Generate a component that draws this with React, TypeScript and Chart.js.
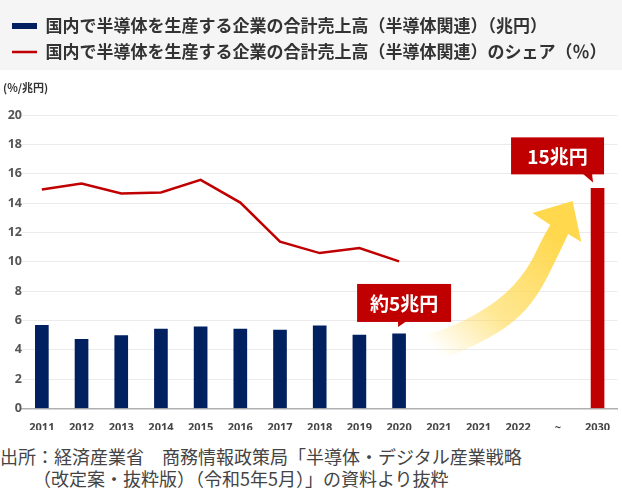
import React, { useEffect, useRef } from 'react';
import { Chart, registerables } from 'chart.js';

Chart.register(...registerables);

// ---------- data ----------
const categories = ['2011', '2012', '2013', '2014', '2015', '2016', '2017', '2018', '2019', '2020', '2021', '2021', '2022', '~', '2030'];
const salesTrillionYen = [5.67, 4.71, 4.97, 5.42, 5.56, 5.42, 5.35, 5.63, 5.01, 5.08, null, null, null, null, 15];
const sharePercent = [14.92, 15.33, 14.65, 14.72, 15.58, 14.03, 11.37, 10.59, 10.94, 10.03, null, null, null, null, null];
const yTickValues = [0, 2, 4, 6, 8, 10, 12, 14, 16, 18, 20];
const seriesLabels = [
  '国内で半導体を生産する企業の合計売上高（半導体関連）（兆円）',
  '国内で半導体を生産する企業の合計売上高（半導体関連）のシェア（％）',
];
const unitLabel = '(%/兆円)';
const calloutCurrentText = '約5兆円';
const calloutTargetText = '15兆円';
const sourceLines = [
  '出所：経済産業省　商務情報政策局「半導体・デジタル産業戦略',
  '（改定案・抜粋版）（令和5年5月）」の資料より抜粋',
];

// ---------- styles ----------
const NAVY = '#002060';
const RED = '#c00000';
const CJK = '"Noto Sans CJK JP", "Noto Sans", sans-serif';
const LATIN = '"Noto Sans", "Noto Sans CJK JP", sans-serif';

const lastActualIndex = sharePercent.reduce((acc: number, v, i) => (v != null ? i : acc), 0);
const targetIndex = categories.length - 1;

function drawCallout(
  ctx: CanvasRenderingContext2D,
  text: string,
  tipX: number,
  tipY: number,
  rect: { l: number; r: number; t: number; b: number },
  tail: number[][],
  fontSize: number
) {
  ctx.save();
  ctx.fillStyle = RED;
  ctx.fillRect(tipX + rect.l, tipY + rect.t, rect.r - rect.l, rect.b - rect.t);
  ctx.beginPath();
  tail.forEach(([dx, dy], i) => {
    if (i === 0) ctx.moveTo(tipX + dx, tipY + dy);
    else ctx.lineTo(tipX + dx, tipY + dy);
  });
  ctx.closePath();
  ctx.fill();
  ctx.fillStyle = '#ffffff';
  ctx.font = `bold ${fontSize}px ${CJK}`;
  ctx.textAlign = 'center';
  ctx.textBaseline = 'middle';
  ctx.fillText(text, tipX + (rect.l + rect.r) / 2, tipY + (rect.t + rect.b) / 2 + 1);
  ctx.restore();
}

function smoothPath(ctx: CanvasRenderingContext2D, pts: number[][], moveFirst: boolean) {
  if (moveFirst) ctx.moveTo(pts[0][0], pts[0][1]);
  else ctx.lineTo(pts[0][0], pts[0][1]);
  for (let i = 1; i < pts.length - 1; i++) {
    const mx = (pts[i][0] + pts[i + 1][0]) / 2;
    const my = (pts[i][1] + pts[i + 1][1]) / 2;
    ctx.quadraticCurveTo(pts[i][0], pts[i][1], mx, my);
  }
  const last = pts[pts.length - 1];
  ctx.lineTo(last[0], last[1]);
}

const decorPlugin = {
  id: 'decor',
  beforeDraw(chart: any) {
    const { ctx, width } = chart;
    ctx.save();
    ctx.fillStyle = '#f5f5f5';
    ctx.fillRect(0, 0, width, 70);
    ctx.restore();
  },
  afterDatasetsDraw(chart: any) {
    const { ctx } = chart;
    const xs = chart.scales.x;
    const ys = chart.scales.y;
    const P = (i: number, v: number) => [xs.getPixelForValue(i), ys.getPixelForValue(v)];

    // growth arrow (in index/value space)
    const upper = [P(9.66, 5.01), P(10.37, 5.55), P(11.55, 7.39), P(12.23, 9.44), P(12.63, 11.69), P(12.81, 12.5)];
    const head = [P(12.36, 13.32), P(13.37, 14.14), P(13.59, 11.35)];
    const lower = [P(13.26, 11.89), P(12.99, 10.32), P(12.48, 7.6), P(11.88, 5.83), P(11.05, 4.46), P(10.04, 3.3)];
    const g0 = P(10.0, 3.8);
    const g1 = P(12.9, 12.0);
    const grad = ctx.createLinearGradient(g0[0], g0[1], g1[0], g1[1]);
    grad.addColorStop(0, 'rgba(255,216,77,0)');
    grad.addColorStop(0.4, 'rgba(255,216,77,0.6)');
    grad.addColorStop(1, 'rgba(255,216,77,1)');
    ctx.save();
    ctx.beginPath();
    smoothPath(ctx, upper, true);
    head.forEach((p) => ctx.lineTo(p[0], p[1]));
    smoothPath(ctx, lower, false);
    ctx.closePath();
    ctx.fillStyle = grad;
    ctx.fill();
    ctx.restore();

    const meta = chart.getDatasetMeta(0);
    const cur = meta.data[lastActualIndex];
    const tgt = meta.data[targetIndex];
    if (cur) {
      drawCallout(ctx, calloutCurrentText, cur.x - 1, cur.y - 7,
        { l: -41, r: 53, t: -43, b: -5 }, [[0, -5.5], [8, -5.5], [0, 0]], 19);
    }
    if (tgt) {
      drawCallout(ctx, calloutTargetText, tgt.x - 4.5, tgt.y - 6,
        { l: -82, r: 11, t: -45, b: -8 }, [[-10, -8.5], [-1, -8.5], [0, 0]], 19);
    }
  },
};

export default function App() {
  const canvasRef = useRef<HTMLCanvasElement | null>(null);

  useEffect(() => {
    if (!canvasRef.current) return;
    const chart = new Chart(canvasRef.current, {
      type: 'bar',
      data: {
        labels: categories,
        datasets: [
          {
            type: 'bar',
            label: seriesLabels[0],
            data: salesTrillionYen,
            backgroundColor: categories.map((_, i) => (i === targetIndex ? RED : NAVY)),
            barThickness: 13,
            order: 2,
          },
          {
            type: 'line',
            label: seriesLabels[1],
            data: sharePercent,
            borderColor: RED,
            backgroundColor: RED,
            borderWidth: 2.5,
            pointRadius: 0,
            tension: 0,
            order: 1,
          },
        ],
      } as any,
      options: {
        animation: false,
        responsive: true,
        maintainAspectRatio: false,
        devicePixelRatio: 1,
        layout: { padding: { top: 8.5, left: 3, right: 4.6, bottom: 0 } },
        plugins: {
          legend: {
            display: true,
            position: 'top',
            align: 'start',
            weight: 3000,
            labels: {
              usePointStyle: true,
              pointStyleWidth: 25,
              boxHeight: 6,
              padding: 9,
              color: '#333333',
              font: { family: CJK, size: 17, weight: 'bold' },
              generateLabels: (chart: any) =>
                chart.data.datasets.map((ds: any, i: number) => ({
                  text: ds.label,
                  datasetIndex: i,
                  fillStyle: i === 0 ? NAVY : RED,
                  strokeStyle: i === 0 ? NAVY : RED,
                  lineWidth: i === 0 ? 0 : 2.5,
                  pointStyle: i === 0 ? 'rect' : 'line',
                  hidden: false,
                  fontColor: '#333333',
                })),
            },
          } as any,
          title: {
            display: true,
            text: unitLabel,
            align: 'start',
            position: 'top',
            color: '#333333',
            font: { family: CJK, size: 11, weight: 'bold' },
            padding: { top: 10.9, bottom: 20.4 },
          },
          tooltip: { enabled: false },
        },
        scales: {
          x: {
            type: 'category',
            grid: { display: false },
            border: { display: true, color: '#b0b0b0', width: 1.5 },
            ticks: {
              color: '#444444',
              font: { family: LATIN, size: 11, weight: 'bold' },
              padding: 5,
              maxRotation: 0,
              autoSkip: false,
            },
            afterFit: (scale: any) => {
              scale.height = 21.5;
            },
          },
          y: {
            min: 0,
            max: 20,
            grid: { color: '#ebebeb', lineWidth: 1, drawTicks: false },
            border: { display: false },
            ticks: {
              color: '#555555',
              font: { family: LATIN, size: 12.5, weight: 'bold' },
              padding: 0,
            },
            afterBuildTicks: (scale: any) => {
              scale.ticks = yTickValues.map((v) => ({ value: v }));
            },
            afterFit: (scale: any) => {
              scale.width = 19;
            },
          },
        },
      } as any,
      plugins: [decorPlugin],
    });
    return () => chart.destroy();
  }, []);

  return (
    <div style={{ position: 'absolute', left: 0, top: 0, width: 622, height: 488, background: '#ffffff', overflow: 'hidden' }}>
      <div style={{ position: 'absolute', left: 0, top: 0, width: 622, height: 430 }}>
        <canvas ref={canvasRef} />
      </div>
      <div
        style={{
          position: 'absolute',
          left: 0,
          top: 446,
          fontFamily: CJK,
          fontSize: 18,
          lineHeight: '21.5px',
          color: '#444444',
          whiteSpace: 'nowrap',
        }}
      >
        <div>{sourceLines[0]}</div>
        <div style={{ paddingLeft: 33 }}>{sourceLines[1]}</div>
      </div>
    </div>
  );
}
